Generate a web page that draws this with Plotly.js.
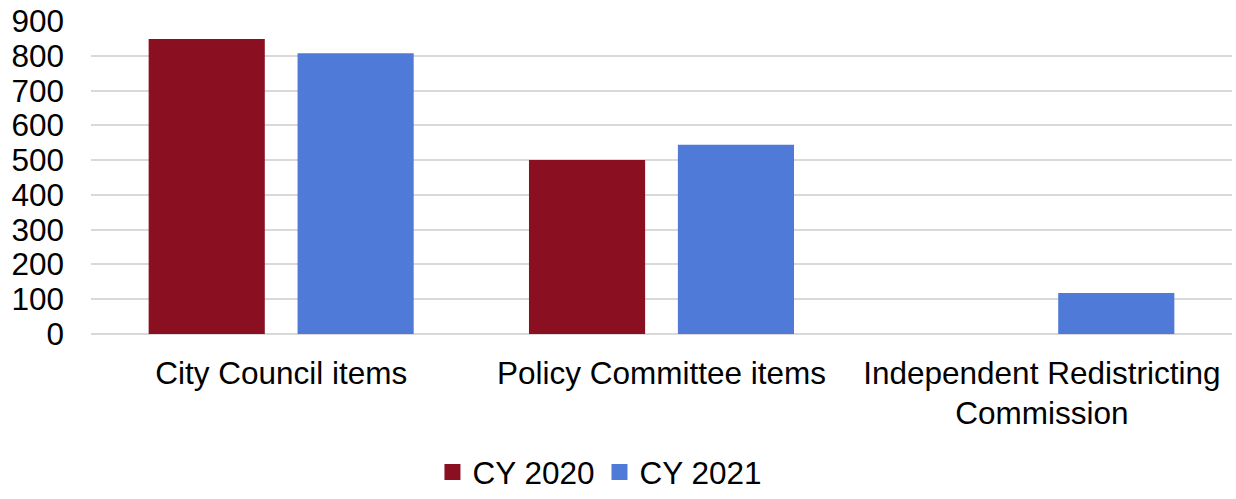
<!DOCTYPE html>
<html>
<head>
<meta charset="utf-8">
<script src="https://cdn.plot.ly/plotly-3.0.1.min.js"></script>
<style>html,body{margin:0;padding:0;background:#fff;}#chart{width:1236px;height:499px;}</style>
</head>
<body>
<div id="chart"></div>
<script>
const categories = ["City Council items", "Policy Committee items", "Independent Redistricting<br>Commission"];
const seriesNames = ["CY 2020", "CY 2021"];
const cy2020 = [848, 500, 0];
const cy2021 = [807, 544, 118];
const yTicks = [0, 100, 200, 300, 400, 500, 600, 700, 800, 900];

const colors = ["#8a0f21", "#4f7ad7"];
const fontFam = "Liberation Sans, Arial, sans-serif";
const fs = 31.5;

const barTraces = [cy2020, cy2021].map((vals, i) => ({
  type: "bar",
  name: seriesNames[i],
  legendgroup: seriesNames[i],
  showlegend: false,
  x: categories,
  y: vals,
  marker: {color: colors[i]},
  hoverinfo: "skip"
}));

// legend-only entries (larger square swatches, like the reference)
const legendTraces = seriesNames.map((n, i) => ({
  type: "scatter",
  mode: "markers",
  name: n,
  legendgroup: n,
  x: [null],
  y: [null],
  marker: {symbol: "square", size: 17, color: colors[i]},
  hoverinfo: "skip"
}));

const layout = {
  width: 1236,
  height: 499,
  margin: {l: 91, r: 4, t: 21, b: 164.5},
  paper_bgcolor: "#fff",
  plot_bgcolor: "#fff",
  font: {family: fontFam, size: fs, color: "#000"},
  barmode: "group",
  bargap: 0.217,
  bargroupgap: 0.22,
  showlegend: true,
  legend: {
    orientation: "h",
    xref: "container", x: 0.4854, xanchor: "center",
    yref: "container", y: -0.016, yanchor: "bottom",
    font: {family: fontFam, size: fs, color: "#000"},
    traceorder: "normal",
    itemwidth: 30
  },
  xaxis: {
    type: "category",
    showgrid: false,
    zeroline: false,
    showline: false,
    ticks: "",
    ticklabelstandoff: 17,
    tickfont: {family: fontFam, size: fs, color: "#000"}
  },
  yaxis: {
    range: [0, 900],
    tickvals: yTicks,
    ticktext: yTicks.map(String),
    showgrid: true,
    gridcolor: "#d9d9d9",
    gridwidth: 2,
    zeroline: true,
    zerolinecolor: "#d9d9d9",
    zerolinewidth: 2,
    showline: false,
    ticks: "",
    ticklabelstandoff: 26,
    tickfont: {family: fontFam, size: fs, color: "#000"}
  }
};

Plotly.newPlot("chart", barTraces.concat(legendTraces), layout, {displayModeBar: false, staticPlot: true});
</script>
</body>
</html>
